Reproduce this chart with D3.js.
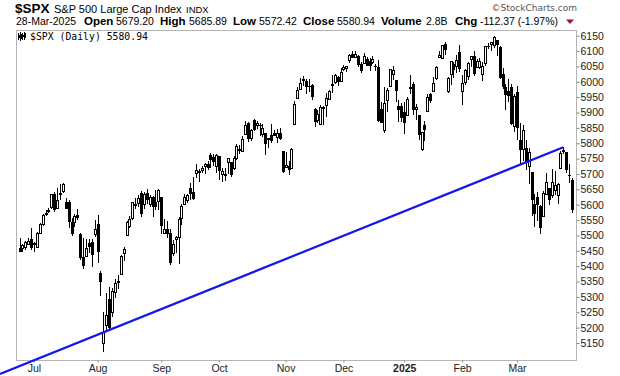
<!DOCTYPE html>
<html><head><meta charset="utf-8">
<script src="https://cdn.jsdelivr.net/npm/d3@7"></script>
<style>body{margin:0;background:#fff}svg{display:block}</style>
</head><body><svg id="c" width="620" height="376"></svg>
<script>
const dates = [
"2024-06-24","2024-06-25","2024-06-26","2024-06-27","2024-06-28",
"2024-07-01","2024-07-02","2024-07-03","2024-07-05","2024-07-08","2024-07-09","2024-07-10","2024-07-11","2024-07-12","2024-07-15","2024-07-16","2024-07-17","2024-07-18","2024-07-19","2024-07-22","2024-07-23","2024-07-24","2024-07-25","2024-07-26","2024-07-29","2024-07-30","2024-07-31",
"2024-08-01","2024-08-02","2024-08-05","2024-08-06","2024-08-07","2024-08-08","2024-08-09","2024-08-12","2024-08-13","2024-08-14","2024-08-15","2024-08-16","2024-08-19","2024-08-20","2024-08-21","2024-08-22","2024-08-23","2024-08-26","2024-08-27","2024-08-28","2024-08-29","2024-08-30",
"2024-09-03","2024-09-04","2024-09-05","2024-09-06","2024-09-09","2024-09-10","2024-09-11","2024-09-12","2024-09-13","2024-09-16","2024-09-17","2024-09-18","2024-09-19","2024-09-20","2024-09-23","2024-09-24","2024-09-25","2024-09-26","2024-09-27","2024-09-30",
"2024-10-01","2024-10-02","2024-10-03","2024-10-04","2024-10-07","2024-10-08","2024-10-09","2024-10-10","2024-10-11","2024-10-14","2024-10-15","2024-10-16","2024-10-17","2024-10-18","2024-10-21","2024-10-22","2024-10-23","2024-10-24","2024-10-25","2024-10-28","2024-10-29","2024-10-30","2024-10-31",
"2024-11-01","2024-11-04","2024-11-05","2024-11-06","2024-11-07","2024-11-08","2024-11-11","2024-11-12","2024-11-13","2024-11-14","2024-11-15","2024-11-18","2024-11-19","2024-11-20","2024-11-21","2024-11-22","2024-11-25","2024-11-26","2024-11-27","2024-11-29",
"2024-12-02","2024-12-03","2024-12-04","2024-12-05","2024-12-06","2024-12-09","2024-12-10","2024-12-11","2024-12-12","2024-12-13","2024-12-16","2024-12-17","2024-12-18","2024-12-19","2024-12-20","2024-12-23","2024-12-24","2024-12-26","2024-12-27","2024-12-30","2024-12-31",
"2025-01-02","2025-01-03","2025-01-06","2025-01-07","2025-01-08","2025-01-10","2025-01-13","2025-01-14","2025-01-15","2025-01-16","2025-01-17","2025-01-21","2025-01-22","2025-01-23","2025-01-24","2025-01-27","2025-01-28","2025-01-29","2025-01-30","2025-01-31",
"2025-02-03","2025-02-04","2025-02-05","2025-02-06","2025-02-07","2025-02-10","2025-02-11","2025-02-12","2025-02-13","2025-02-14","2025-02-18","2025-02-19","2025-02-20","2025-02-21","2025-02-24","2025-02-25","2025-02-26","2025-02-27","2025-02-28",
"2025-03-03","2025-03-04","2025-03-05","2025-03-06","2025-03-07","2025-03-10","2025-03-11","2025-03-12","2025-03-13","2025-03-14","2025-03-17","2025-03-18","2025-03-19","2025-03-20","2025-03-21","2025-03-24","2025-03-25","2025-03-26","2025-03-27","2025-03-28"];

const opens = [
5459.58,5460.73,5460.71,5473.59,5488.48,
5471.08,5461.84,5507.44,5537.91,5572.75,5584.24,5591.26,5635.21,5590.76,5638.16,5644.09,5610.07,5608.56,5543.37,5544.54,5565.30,5505.84,5428.70,5433.67,5476.55,5478.73,5505.59,
5537.84,5376.63,5151.14,5206.42,5293.13,5252.57,5314.07,5351.88,5376.98,5442.01,5501.13,5530.50,5557.23,5602.88,5603.09,5637.77,5602.14,5639.66,5602.89,5624.51,5607.30,5612.74,
5623.89,5506.68,5520.08,5507.33,5442.07,5490.51,5496.42,5557.48,5603.34,5615.21,5655.51,5641.68,5702.63,5709.10,5711.90,5727.29,5733.65,5762.22,5755.36,5726.52,
5757.73,5698.19,5698.99,5737.80,5737.93,5719.14,5751.80,5778.36,5775.09,5829.81,5866.74,5816.58,5875.62,5859.43,5857.82,5832.70,5834.50,5817.80,5826.75,5833.93,5819.68,5832.65,5775.34,
5723.22,5725.15,5722.43,5864.89,5947.21,5976.76,6008.86,6003.60,5985.75,5989.68,5912.79,5874.17,5863.04,5914.54,5924.37,5944.36,5992.28,6000.03,6014.11,6003.98,
6040.11,6042.97,6069.39,6089.03,6081.38,6083.01,6057.59,6060.15,6074.29,6068.17,6063.79,6052.55,6047.65,5912.71,5842.00,5940.25,5984.63,6024.97,6006.17,5920.67,5919.74,
5903.26,5891.07,5982.81,5993.26,5910.66,5890.66,5782.31,5859.00,5905.21,5961.28,5969.71,6014.12,6081.39,6076.32,6121.43,5969.04,6026.97,6057.70,6050.75,6096.79,
5969.65,5998.14,6020.45,6072.22,6083.13,6046.40,6049.32,6025.08,6060.59,6115.52,6121.60,6117.76,6134.50,6114.10,6026.69,5982.73,5970.87,5981.88,5856.74,
5968.33,5811.98,5781.39,5785.87,5726.01,5705.37,5603.65,5624.84,5594.45,5563.85,5635.60,5654.53,5632.37,5646.92,5630.73,5718.08,5775.54,5771.66,5695.64,5679.20];

const highs = [
5490.66,5472.88,5483.14,5490.81,5523.64,
5479.55,5509.69,5539.27,5570.33,5583.11,5590.75,5635.39,5642.45,5655.56,5666.94,5669.67,5622.49,5614.05,5557.50,5570.36,5585.34,5508.04,5491.59,5488.32,5487.74,5489.46,5551.51,
5566.16,5383.89,5250.89,5312.34,5330.64,5328.03,5358.56,5371.20,5436.50,5463.22,5546.23,5561.98,5608.30,5620.51,5632.68,5643.22,5641.82,5651.62,5631.18,5627.03,5646.95,5651.37,
5623.89,5552.99,5546.30,5522.47,5484.20,5497.91,5560.41,5600.71,5636.27,5636.05,5670.81,5689.75,5733.57,5715.14,5725.36,5735.32,5741.03,5767.37,5763.78,5765.14,
5757.73,5719.14,5718.78,5753.28,5739.39,5757.60,5796.80,5795.03,5822.13,5871.41,5870.36,5846.52,5878.46,5872.17,5866.92,5863.04,5834.85,5817.80,5862.82,5842.92,5847.19,5850.94,5775.34,
5772.46,5741.43,5783.44,5936.14,5983.84,6012.45,6017.31,6009.92,6008.19,5993.88,5915.29,5908.12,5925.12,5920.67,5962.05,5972.90,6020.75,6025.42,6020.16,6044.17,
6053.58,6052.07,6089.84,6099.97,6099.97,6088.51,6065.40,6092.59,6079.68,6078.58,6085.19,6057.68,6070.67,5935.52,5982.06,5978.25,6040.10,6049.75,6006.17,5940.79,5929.74,
5935.09,5949.34,6021.04,6000.68,5927.89,5890.66,5837.81,5871.92,5960.61,5964.69,6014.96,6051.51,6100.81,6118.73,6128.18,6017.17,6069.05,6062.83,6086.64,6120.91,
6022.13,6042.48,6062.86,6084.03,6101.28,6073.38,6076.28,6063.97,6116.91,6127.47,6129.63,6147.43,6134.50,6114.82,6043.65,5992.65,6009.82,5993.69,5959.40,
5986.09,5865.08,5860.59,5812.08,5783.01,5705.37,5636.30,5642.19,5597.78,5645.27,5703.52,5654.53,5715.33,5711.15,5670.84,5775.14,5786.95,5772.88,5732.28,5685.89];

const lows = [
5447.59,5446.56,5451.87,5467.54,5451.12,
5446.53,5458.43,5507.42,5531.63,5562.51,5574.57,5586.44,5576.53,5590.44,5614.75,5639.02,5584.81,5522.81,5497.04,5529.04,5550.90,5419.98,5390.95,5430.70,5444.44,5398.18,5493.75,
5410.42,5302.03,5119.26,5193.56,5195.54,5233.85,5297.39,5324.37,5376.98,5415.76,5497.48,5525.17,5550.74,5585.50,5591.57,5560.95,5585.16,5602.34,5593.48,5560.95,5583.71,5581.79,
5504.33,5503.66,5490.38,5402.62,5434.49,5441.72,5406.96,5535.50,5601.65,5604.53,5614.05,5615.08,5686.42,5674.49,5704.22,5698.99,5712.06,5721.01,5727.34,5703.53,
5681.28,5674.00,5677.37,5699.94,5688.69,5714.56,5745.02,5764.76,5775.09,5829.81,5804.48,5808.34,5840.25,5846.11,5824.31,5821.17,5762.41,5784.92,5799.98,5823.08,5802.17,5811.28,5703.99,
5723.22,5696.51,5722.10,5864.89,5947.21,5976.76,5986.69,5960.08,5965.91,5942.28,5853.01,5865.95,5860.72,5860.58,5885.49,5944.36,5963.91,5992.27,5984.87,6003.98,
6035.33,6033.39,6061.06,6079.98,6079.98,6048.63,6029.89,6060.15,6051.25,6035.77,6059.14,6035.19,5867.79,5866.07,5832.30,5902.57,5981.44,6007.37,5932.95,5869.16,5868.86,
5829.53,5888.66,5960.01,5890.68,5874.78,5809.96,5773.31,5805.97,5905.21,5930.82,5969.71,6006.88,6076.13,6074.67,6088.74,5962.92,5990.48,6012.96,6027.46,6030.93,
5923.93,5990.87,6007.06,6046.83,6019.96,6045.51,6042.34,6003.00,6051.00,6107.62,6099.51,6111.15,6084.59,6008.56,5977.83,5908.49,5932.69,5858.78,5837.66,
5810.91,5732.59,5742.35,5711.64,5666.29,5564.02,5528.41,5546.09,5504.65,5563.85,5631.12,5597.76,5622.20,5632.57,5603.10,5718.08,5764.81,5703.07,5670.94,5572.42];

const closes = [
5447.87,5469.30,5477.90,5482.87,5460.48,
5475.09,5509.01,5537.02,5567.19,5572.85,5576.98,5633.91,5584.54,5615.35,5631.22,5667.20,5588.27,5544.59,5505.00,5564.41,5555.74,5427.13,5399.22,5459.10,5463.54,5436.44,5522.30,
5446.68,5346.56,5186.33,5240.03,5199.50,5319.31,5344.16,5344.39,5434.43,5455.21,5543.22,5554.25,5608.25,5597.12,5620.85,5570.64,5634.61,5616.84,5625.80,5592.18,5591.96,5648.40,
5528.93,5520.07,5503.41,5408.42,5471.05,5495.52,5554.13,5595.76,5626.02,5633.09,5634.58,5618.26,5713.64,5702.55,5718.57,5732.93,5722.26,5745.37,5738.17,5762.48,
5708.75,5709.54,5699.94,5751.07,5695.94,5751.13,5792.04,5780.05,5815.03,5859.85,5815.26,5842.47,5841.47,5864.67,5853.98,5851.20,5797.42,5809.86,5808.12,5823.52,5832.92,5813.67,5705.45,
5728.80,5712.69,5782.76,5929.04,5973.10,5995.54,6001.35,5983.99,5985.38,5949.17,5870.62,5893.62,5916.98,5917.11,5948.71,5969.34,5987.37,6021.63,5998.74,6032.38,
6047.15,6049.88,6086.49,6075.11,6090.27,6052.85,6034.91,6084.19,6051.25,6051.09,6074.08,6050.61,5872.16,5867.08,5930.85,5974.07,6040.04,6037.59,5970.84,5906.94,5881.63,
5868.55,5942.47,5975.38,5909.03,5918.25,5827.04,5836.22,5842.91,5949.91,5937.34,5996.66,6049.24,6086.37,6118.71,6101.24,6012.28,6067.70,6039.31,6071.17,6040.53,
5994.57,6037.88,6061.48,6083.57,6025.99,6066.44,6068.50,6051.97,6115.07,6114.63,6129.58,6144.15,6117.52,6013.13,5983.25,5955.25,5956.06,5861.57,5954.50,
5849.72,5778.15,5842.63,5738.52,5770.20,5614.56,5572.07,5599.30,5521.52,5638.94,5675.12,5614.66,5675.29,5662.89,5667.56,5767.57,5776.65,5712.20,5693.31,5580.94];

const monthTickDates = ["2024-07-01","2024-08-01","2024-09-03","2024-10-01","2024-11-01","2024-12-02","2025-01-02","2025-02-03","2025-03-03"];
const monthTickLabels = ["Jul","Aug","Sep","Oct","Nov","Dec","2025","Feb","Mar"];
const priceTicks = [5150,5200,5250,5300,5350,5400,5450,5500,5550,5600,5650,5700,5750,5800,5850,5900,5950,6000,6050,6100,6150];
const trendDates = ["2024-08-07","2025-03-25"];
const trendValues = [5192, 5787];

const svg = d3.select("#c");
const L = 16, R = 576, T = 30, B = 360;

const x = d3.scalePoint().domain(dates).range([19.5, 572]);
const y = d3.scaleLinear().domain([5094.7, 6168.5]).range([B, T]);

// frame
svg.append("rect").attr("x", L + 0.5).attr("y", T + 0.5).attr("width", R - L).attr("height", B - T)
  .attr("fill", "none").attr("stroke", "#b4b4b4").attr("stroke-width", 1);

// y axis
const yAxis = d3.axisRight(y).tickValues(priceTicks).tickSize(3).tickPadding(1).tickFormat(d3.format("d"));
const ya = svg.append("g").attr("transform", `translate(${R + 0.5},0)`).call(yAxis);
ya.select(".domain").remove();
ya.selectAll("line").attr("stroke", "#888");
ya.selectAll("text").attr("font-family", "Liberation Sans, Arial, sans-serif").attr("font-size", 10.5).attr("fill", "#222");

// x axis
const xAxis = d3.axisBottom(x).tickValues(monthTickDates).tickSize(2).tickPadding(2)
  .tickFormat(d => monthTickLabels[monthTickDates.indexOf(d)]);
const xa = svg.append("g").attr("transform", `translate(0,${B + 0.5})`).call(xAxis);
xa.select(".domain").remove();
xa.selectAll("line").attr("stroke", "#888");
xa.selectAll("text").attr("font-family", "Liberation Sans, Arial, sans-serif").attr("font-size", 10.5).attr("fill", "#222")
  .attr("font-weight", d => monthTickLabels[monthTickDates.indexOf(d)] === "2025" ? "bold" : "normal");

// candles
const g = svg.append("g").attr("shape-rendering", "crispEdges");
dates.forEach((d, i) => {
  const cx = Math.round(x(d));
  const o = opens[i], c = closes[i];
  g.append("line").attr("x1", cx + 0.5).attr("x2", cx + 0.5)
    .attr("y1", y(highs[i])).attr("y2", y(lows[i])).attr("stroke", "#000").attr("stroke-width", 1);
  const top = y(Math.max(o, c)), bot = y(Math.min(o, c));
  const h = Math.max(1, bot - top);
  if (c >= o) {
    g.append("rect").attr("x", cx - 0.5).attr("y", Math.round(top) + 0.5).attr("width", 2).attr("height", Math.max(1, Math.round(h)))
      .attr("fill", "#fff").attr("stroke", "#000").attr("stroke-width", 1);
  } else {
    g.append("rect").attr("x", cx - 1).attr("y", Math.round(top)).attr("width", 3).attr("height", Math.max(1, Math.round(h)))
      .attr("fill", "#000");
  }
});

// trend line (extended to the left edge of the image)
const tx1 = x(trendDates[0]), ty1 = y(trendValues[0]);
const tx2 = x(trendDates[1]), ty2 = y(trendValues[1]);
const slope = (ty2 - ty1) / (tx2 - tx1);
svg.append("line").attr("x1", 0).attr("y1", ty1 + (0 - tx1) * slope).attr("x2", tx2).attr("y2", ty2)
  .attr("stroke", "#1515ee").attr("stroke-width", 2.2);

// legend in plot
const lg = svg.append("g").attr("shape-rendering", "crispEdges");
[[18,33,40,35,38],[20,32,41,34,39],[22,33,40,35,37],[24,32,40,33,38]].forEach(a => {
  lg.append("line").attr("x1", a[0] + 0.5).attr("x2", a[0] + 0.5).attr("y1", a[1]).attr("y2", a[2]).attr("stroke", "#000");
  lg.append("rect").attr("x", a[0] - 0.5).attr("y", a[3]).attr("width", 2).attr("height", a[4] - a[3]).attr("fill", "#000");
});
svg.append("text").attr("x", 30).attr("y", 40).attr("font-family", "DejaVu Sans Mono, monospace").attr("font-size", 9.8)
  .attr("fill", "#000").text("$SPX (Daily) 5580.94");

// header
const font = "Liberation Sans, Arial, sans-serif";
svg.append("text").attr("x", 15).attr("y", 13).attr("font-family", font).attr("font-size", 13.5).attr("font-weight", "bold").text("$SPX");
svg.append("text").attr("x", 54).attr("y", 12.5).attr("font-family", font).attr("font-size", 11).text("S&P 500 Large Cap Index");
svg.append("text").attr("x", 186).attr("y", 12.5).attr("font-family", font).attr("font-size", 9.5).text("INDX");
svg.append("text").attr("x", 577).attr("y", 10.5).attr("text-anchor", "end").attr("font-family", "DejaVu Sans, sans-serif")
  .attr("font-size", 9).attr("fill", "#555").text("\u00a9StockCharts.com");

const segs = [
  ["28-Mar-2025", 16, false], ["Open", 84, true], ["5679.20", 116, false],
  ["High", 160, true], ["5685.89", 189, false], ["Low", 233, true], ["5572.42", 259, false],
  ["Close", 303, true], ["5580.94", 337, false], ["Volume", 381, true], ["2.8B", 426, false],
  ["Chg", 455, true], ["-112.37 (-1.97%)", 480, false]
];
const line2 = svg.append("g").attr("font-family", font);
segs.forEach(s => line2.append("text").attr("x", s[1]).attr("y", 25)
  .attr("font-size", s[2] ? 11.5 : 10.5).attr("font-weight", s[2] ? "bold" : "normal").text(s[0]));
svg.append("path").attr("d", "M566,19.5 L574,19.5 L570,24 Z").attr("fill", "#a0102a");
</script></body></html>
